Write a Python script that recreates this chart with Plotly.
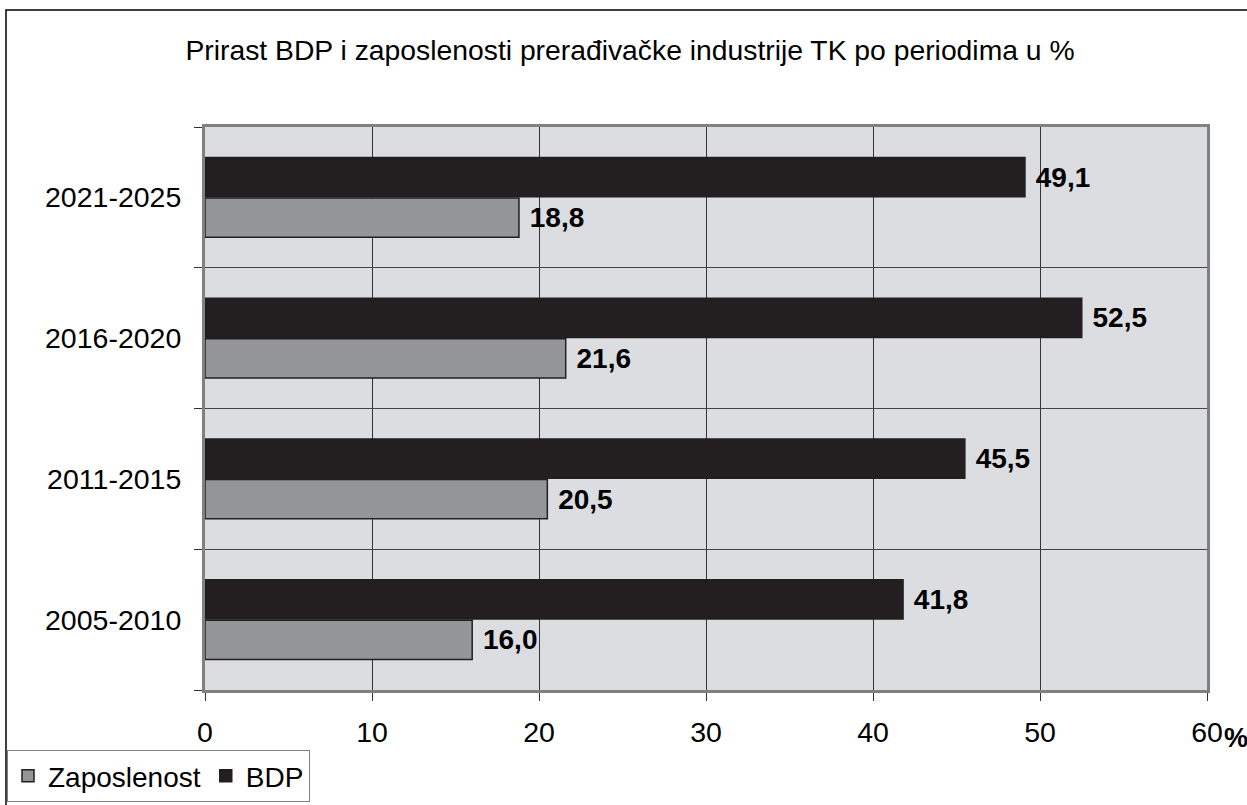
import plotly.graph_objects as go

# podaci
periodi = ["2005-2010", "2011-2015", "2016-2020", "2021-2025"]
zaposlenost = [16.0, 20.5, 21.6, 18.8]
bdp = [41.8, 45.5, 52.5, 49.1]
x_tickovi = [0, 10, 20, 30, 40, 50, 60]

FONT = "Liberation Sans, Arial, sans-serif"

W, H = 1247, 805
L, R, T, B = 205, 40, 127, 115
PW = W - L - R
PH = H - T - B


def oznake(vrijednosti):
    return [" " + f"{v:.1f}".replace(".", ",") for v in vrijednosti]


fig = go.Figure()

fig.add_trace(go.Bar(
    y=periodi, x=zaposlenost, orientation="h", name="Zaposlenost",
    marker=dict(color="#939598", line=dict(color="#231f20", width=1.5)),
    text=oznake(zaposlenost), textposition="outside", cliponaxis=False,
    textfont=dict(family=FONT, size=28, color="#000000", weight="bold"),
))
fig.add_trace(go.Bar(
    y=periodi, x=bdp, orientation="h", name="BDP",
    marker=dict(color="#231f20", line=dict(color="#231f20", width=1.5)),
    text=oznake(bdp), textposition="outside", cliponaxis=False,
    textfont=dict(family=FONT, size=28, color="#000000", weight="bold"),
))

fig.update_layout(
    width=W, height=H,
    margin=dict(l=L, r=R, t=T, b=B, autoexpand=False),
    paper_bgcolor="white",
    plot_bgcolor="#dcdde0",
    font=dict(family=FONT, size=28, color="#000000"),
    barmode="group",
    bargap=0.425,
    bargroupgap=0.03,
    showlegend=True,
    title=dict(
        text="Prirast BDP i zaposlenosti prerađivačke industrije TK po periodima u %",
        x=630 / W, xref="container", xanchor="center",
        y=1 - 50 / H, yref="container", yanchor="middle",
        font=dict(family=FONT, size=28.3, color="#000000"),
    ),
    legend=dict(
        orientation="h",
        xref="container", x=7 / W, xanchor="left",
        yref="container", y=1 - 750 / H, yanchor="top",
        bgcolor="white", bordercolor="#808080", borderwidth=1,
        font=dict(family=FONT, size=28),
        traceorder="normal",
        itemwidth=30,
    ),
)

fig.update_xaxes(
    range=[0, 60], tickvals=x_tickovi,
    showgrid=True, gridcolor="#333333", gridwidth=1,
    showline=True, linecolor="#808080", linewidth=3, mirror=True,
    ticks="outside", ticklen=8, tickcolor="#333333",
    zeroline=False, tickfont=dict(size=28.5),
    ticklabelstandoff=7,
)
fig.update_yaxes(
    categoryorder="array", categoryarray=periodi,
    tickson="boundaries",
    showgrid=True, gridcolor="#444444", gridwidth=1,
    showline=True, linecolor="#808080", linewidth=3, mirror=True,
    ticks="outside", ticklen=8, tickcolor="#333333",
    tickfont=dict(size=28.5),
    ticklabelstandoff=15,
)

# % uz os x
fig.add_annotation(
    text="%", xref="paper", yref="paper", x=1, y=0,
    xanchor="left", yanchor="middle", xshift=15, yshift=-48,
    showarrow=False,
    font=dict(family=FONT, size=27, color="#000000", weight="bold"),
)

# okvir cijelog grafikona (gornji i lijevi rub, ostalo izlazi iz slike)
fig.add_shape(
    type="rect", xref="paper", yref="paper",
    x0=(6 - L) / PW, x1=1.2, y0=-0.5, y1=1 + (T - 10) / PH,
    line=dict(color="#000000", width=1.5), layer="below",
)

# bez margina stranice, da graf stane tocno u prozor
fig.write_html(
    "out.html",
    config={"displayModeBar": False},
    post_script="document.body.style.margin='0';document.body.style.overflow='hidden';",
)
